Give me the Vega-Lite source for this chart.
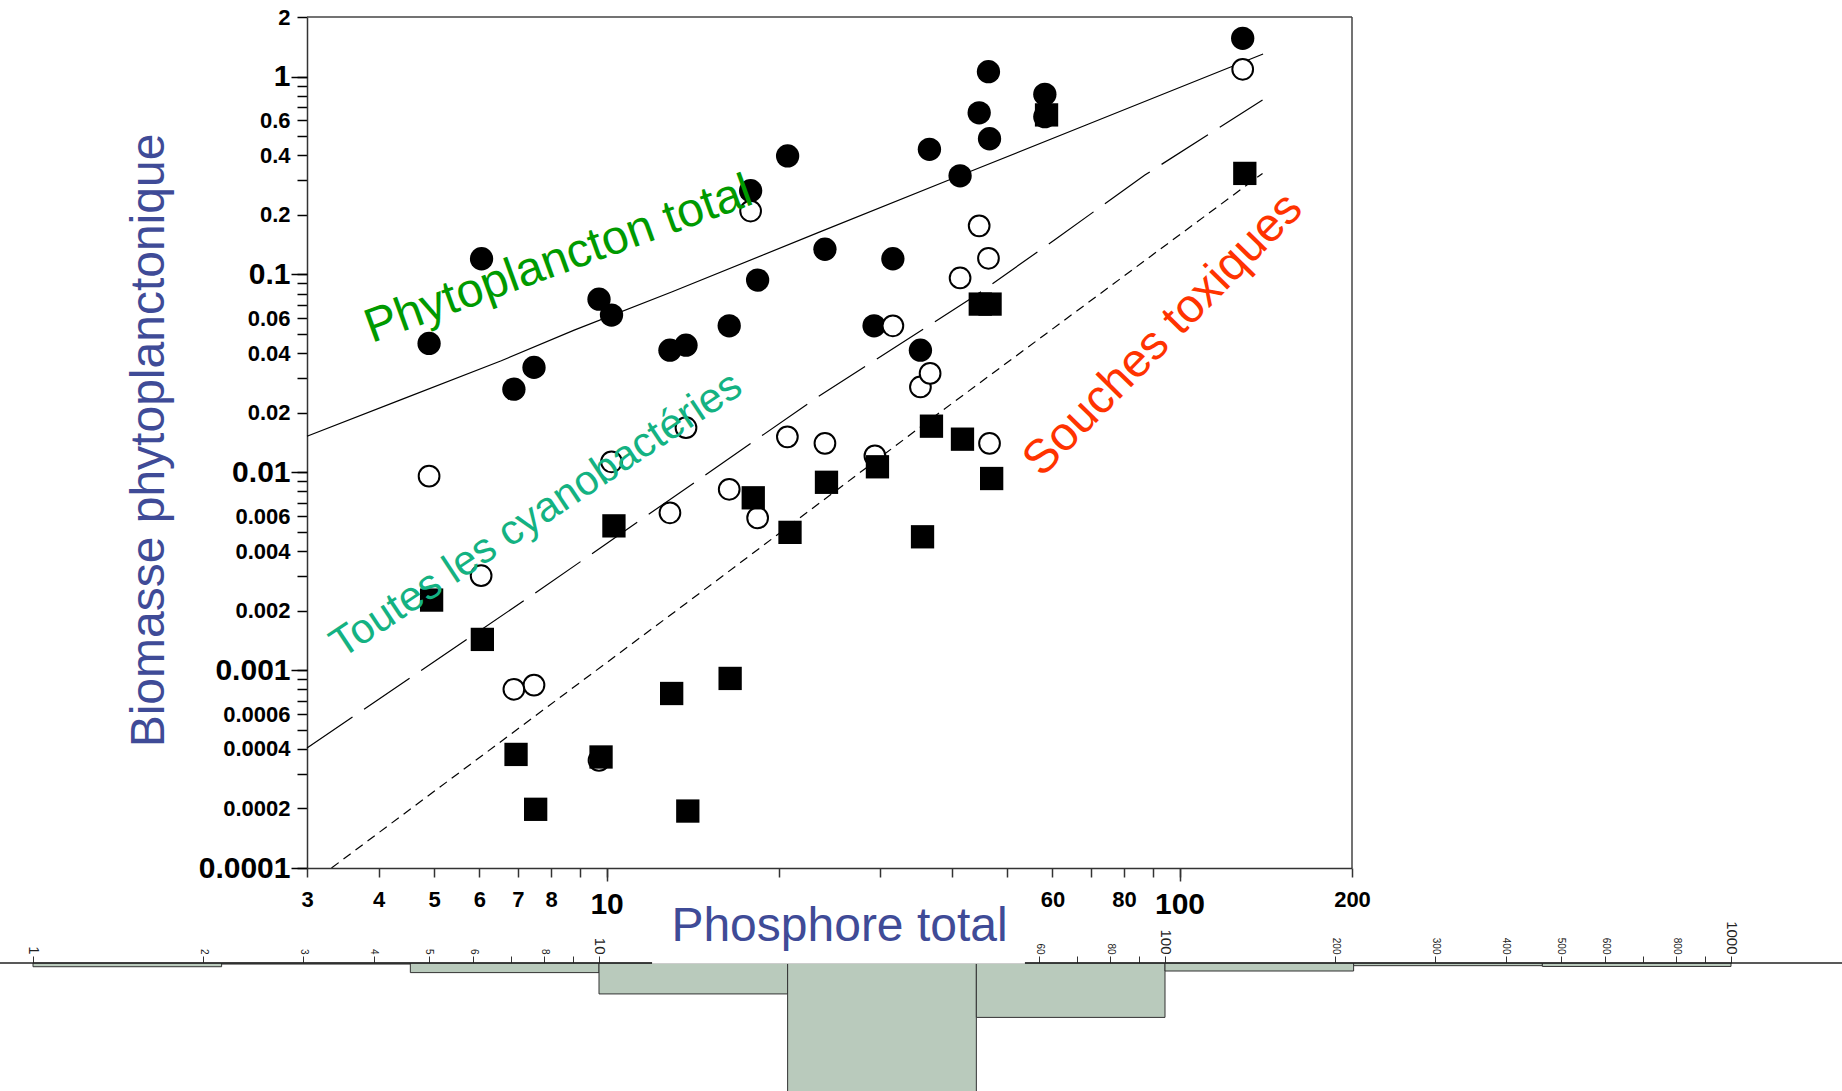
{
  "$schema": "https://vega.github.io/schema/vega-lite/v6.json",
  "width": 1045,
  "height": 851,
  "autosize": {"type": "none"},
  "padding": {"left": 307, "top": 17, "right": 490, "bottom": 223},
  "background": "white",
  "config": {
    "view": {"stroke": null},
    "font": "Liberation Sans"
  },
  "datasets": {
    "points": [
      {"tp": 4.90, "biomasse": 0.0448, "groupe": "total"},
      {"tp": 6.05, "biomasse": 0.120, "groupe": "total"},
      {"tp": 6.89, "biomasse": 0.0263, "groupe": "total"},
      {"tp": 7.47, "biomasse": 0.0339, "groupe": "total"},
      {"tp": 9.70, "biomasse": 0.0750, "groupe": "total"},
      {"tp": 10.2, "biomasse": 0.0623, "groupe": "total"},
      {"tp": 12.9, "biomasse": 0.0414, "groupe": "total"},
      {"tp": 13.76, "biomasse": 0.0439, "groupe": "total"},
      {"tp": 16.37, "biomasse": 0.0550, "groupe": "total"},
      {"tp": 17.84, "biomasse": 0.265, "groupe": "total"},
      {"tp": 18.35, "biomasse": 0.0936, "groupe": "total"},
      {"tp": 20.7, "biomasse": 0.397, "groupe": "total"},
      {"tp": 24.05, "biomasse": 0.134, "groupe": "total"},
      {"tp": 29.3, "biomasse": 0.0550, "groupe": "total"},
      {"tp": 31.6, "biomasse": 0.120, "groupe": "total"},
      {"tp": 35.3, "biomasse": 0.0414, "groupe": "total"},
      {"tp": 36.6, "biomasse": 0.429, "groupe": "total"},
      {"tp": 41.4, "biomasse": 0.315, "groupe": "total"},
      {"tp": 44.7, "biomasse": 0.656, "groupe": "total"},
      {"tp": 46.4, "biomasse": 1.058, "groupe": "total"},
      {"tp": 46.6, "biomasse": 0.485, "groupe": "total"},
      {"tp": 58.2, "biomasse": 0.813, "groupe": "total"},
      {"tp": 58.2, "biomasse": 0.627, "groupe": "total"},
      {"tp": 128.9, "biomasse": 1.56, "groupe": "total"},
      {"tp": 4.90, "biomasse": 0.00956, "groupe": "cyano"},
      {"tp": 6.04, "biomasse": 0.0030, "groupe": "cyano"},
      {"tp": 6.89, "biomasse": 0.00080, "groupe": "cyano"},
      {"tp": 7.47, "biomasse": 0.00084, "groupe": "cyano"},
      {"tp": 9.70, "biomasse": 0.00035, "groupe": "cyano"},
      {"tp": 10.2, "biomasse": 0.0113, "groupe": "cyano"},
      {"tp": 12.9, "biomasse": 0.00624, "groupe": "cyano"},
      {"tp": 13.76, "biomasse": 0.0168, "groupe": "cyano"},
      {"tp": 16.37, "biomasse": 0.0082, "groupe": "cyano"},
      {"tp": 17.84, "biomasse": 0.209, "groupe": "cyano"},
      {"tp": 18.35, "biomasse": 0.00588, "groupe": "cyano"},
      {"tp": 20.68, "biomasse": 0.0151, "groupe": "cyano"},
      {"tp": 24.05, "biomasse": 0.0140, "groupe": "cyano"},
      {"tp": 29.4, "biomasse": 0.0121, "groupe": "cyano"},
      {"tp": 31.6, "biomasse": 0.0550, "groupe": "cyano"},
      {"tp": 35.3, "biomasse": 0.0270, "groupe": "cyano"},
      {"tp": 36.7, "biomasse": 0.0316, "groupe": "cyano"},
      {"tp": 41.4, "biomasse": 0.096, "groupe": "cyano"},
      {"tp": 44.7, "biomasse": 0.176, "groupe": "cyano"},
      {"tp": 46.4, "biomasse": 0.1206, "groupe": "cyano"},
      {"tp": 46.6, "biomasse": 0.0140, "groupe": "cyano"},
      {"tp": 128.9, "biomasse": 1.088, "groupe": "cyano"},
      {"tp": 4.95, "biomasse": 0.00226, "groupe": "toxique"},
      {"tp": 6.07, "biomasse": 0.00143, "groupe": "toxique"},
      {"tp": 6.95, "biomasse": 0.000375, "groupe": "toxique"},
      {"tp": 7.52, "biomasse": 0.000198, "groupe": "toxique"},
      {"tp": 9.78, "biomasse": 0.000364, "groupe": "toxique"},
      {"tp": 10.3, "biomasse": 0.00536, "groupe": "toxique"},
      {"tp": 12.99, "biomasse": 0.000762, "groupe": "toxique"},
      {"tp": 13.86, "biomasse": 0.000194, "groupe": "toxique"},
      {"tp": 16.43, "biomasse": 0.000908, "groupe": "toxique"},
      {"tp": 18.03, "biomasse": 0.00743, "groupe": "toxique"},
      {"tp": 20.9, "biomasse": 0.00497, "groupe": "toxique"},
      {"tp": 24.2, "biomasse": 0.0089, "groupe": "toxique"},
      {"tp": 29.7, "biomasse": 0.01066, "groupe": "toxique"},
      {"tp": 35.6, "biomasse": 0.00472, "groupe": "toxique"},
      {"tp": 36.9, "biomasse": 0.0171, "groupe": "toxique"},
      {"tp": 41.8, "biomasse": 0.0147, "groupe": "toxique"},
      {"tp": 44.9, "biomasse": 0.0708, "groupe": "toxique"},
      {"tp": 46.7, "biomasse": 0.0708, "groupe": "toxique"},
      {"tp": 47.0, "biomasse": 0.0093, "groupe": "toxique"},
      {"tp": 58.6, "biomasse": 0.64, "groupe": "toxique"},
      {"tp": 130, "biomasse": 0.324, "groupe": "toxique"}
    ],
    "lignes": [
      {"tp": 3.0, "biomasse": 0.0152, "ligne": "total"},
      {"tp": 4.38, "biomasse": 0.0233, "ligne": "total"},
      {"tp": 6.55, "biomasse": 0.0366, "ligne": "total"},
      {"tp": 8.78, "biomasse": 0.0523, "ligne": "total"},
      {"tp": 13.02, "biomasse": 0.0817, "ligne": "total"},
      {"tp": 23.57, "biomasse": 0.164, "ligne": "total"},
      {"tp": 41.4, "biomasse": 0.316, "ligne": "total"},
      {"tp": 68.7, "biomasse": 0.569, "ligne": "total"},
      {"tp": 139.9, "biomasse": 1.30, "ligne": "total"},
      {"tp": 3.0, "biomasse": 0.000404, "ligne": "cyano"},
      {"tp": 7.64, "biomasse": 0.00254, "ligne": "cyano"},
      {"tp": 23.4, "biomasse": 0.0241, "ligne": "cyano"},
      {"tp": 44.2, "biomasse": 0.0786, "ligne": "cyano"},
      {"tp": 61.0, "biomasse": 0.152, "ligne": "cyano"},
      {"tp": 87.0, "biomasse": 0.318, "ligne": "cyano"},
      {"tp": 139.6, "biomasse": 0.761, "ligne": "cyano"},
      {"tp": 3.31, "biomasse": 0.0001, "ligne": "toxique"},
      {"tp": 15.57, "biomasse": 0.00284, "ligne": "toxique"},
      {"tp": 38.1, "biomasse": 0.0200, "ligne": "toxique"},
      {"tp": 139.6, "biomasse": 0.324, "ligne": "toxique"}
    ],
    "histo": [
      {"debut": 1, "fin": 2.154, "effectif": 0.7},
      {"debut": 2.154, "fin": 4.642, "effectif": 0.2},
      {"debut": 4.642, "fin": 10, "effectif": 1.8},
      {"debut": 10, "fin": 21.54, "effectif": 5.8},
      {"debut": 21.54, "fin": 46.42, "effectif": 30},
      {"debut": 46.42, "fin": 100, "effectif": 10.2},
      {"debut": 100, "fin": 215.4, "effectif": 1.5},
      {"debut": 215.4, "fin": 464.2, "effectif": 0.5},
      {"debut": 464.2, "fin": 1000, "effectif": 0.65}
    ]
  },
  "layer": [
    {
      "data": {"name": "lignes"},
      "transform": [{"filter": "datum.ligne == 'total'"}],
      "mark": {"type": "line", "color": "black", "strokeWidth": 1.2},
      "encoding": {
        "x": {
          "field": "tp", "type": "quantitative",
          "scale": {"type": "log", "domain": [3, 200], "nice": false},
          "axis": {
            "orient": "bottom", "zindex": 1, "grid": false,
            "values": [3,4,5,6,7,8,9,10,20,30,40,50,60,70,80,90,100,200],
            "format": "d",
            "labelExpr": "(datum.value == 9 || (datum.value >= 20 && datum.value <= 50) || datum.value == 70 || datum.value == 90) ? '' : datum.label",
            "labelFontWeight": "bold", "labelColor": "black",
            "labelFontSize": {"condition": {"test": "datum.value == 10 || datum.value == 100", "value": 30}, "value": 22},
            "tickSize": 9, "tickColor": "#333", "tickWidth": 1.5, "domainColor": "#333", "domainWidth": 1.5,
            "labelPadding": 12, "labelFlush": false, "labelOverlap": false,
            "title": "Phosphore total", "titleFontSize": 48, "titleFontWeight": "normal", "titleColor": "#3f4b97",
            "titleX": 532, "titleY": 72, "titleBaseline": "alphabetic", "titleAlign": "center"
          }
        },
        "y": {
          "field": "biomasse", "type": "quantitative",
          "scale": {"type": "log", "domain": [0.0001, 2], "nice": false},
          "axis": {
            "orient": "left", "grid": false,
            "values": [0.0001,0.0002,0.0003,0.0004,0.0005,0.0006,0.0007,0.0008,0.0009,0.001,0.002,0.003,0.004,0.005,0.006,0.007,0.008,0.009,0.01,0.02,0.03,0.04,0.05,0.06,0.07,0.08,0.09,0.1,0.2,0.3,0.4,0.5,0.6,0.7,0.8,0.9,1,2],
            "format": ".4~f",
            "labelExpr": "(round(datum.value / pow(10, floor(log(datum.value) / LN10 + 0.000001))) == 1 || round(datum.value / pow(10, floor(log(datum.value) / LN10 + 0.000001))) == 2 || round(datum.value / pow(10, floor(log(datum.value) / LN10 + 0.000001))) == 4 || round(datum.value / pow(10, floor(log(datum.value) / LN10 + 0.000001))) == 6) ? datum.label : ''",
            "labelFontWeight": "bold", "labelColor": "black",
            "labelFontSize": {"condition": {"test": "abs(log(datum.value) / LN10 - round(log(datum.value) / LN10)) < 0.0001", "value": 30}, "value": 22},
            "tickSize": 10, "tickColor": "black", "tickWidth": 1.5, "domainColor": "#333", "domainWidth": 1.5,
            "labelPadding": 7, "labelFlush": false, "labelOverlap": false,
            "title": "Biomasse phytoplanctonique", "titleFontSize": 48, "titleFontWeight": "normal", "titleColor": "#3f4b97",
            "titleAngle": -90, "titleX": -144, "titleY": 423, "titleBaseline": "alphabetic", "titleAlign": "center"
          }
        }
      }
    },
    {
      "data": {"name": "lignes"},
      "transform": [{"filter": "datum.ligne == 'cyano'"}],
      "mark": {"type": "line", "color": "black", "strokeWidth": 1.2, "strokeDash": [55, 14]},
      "encoding": {
        "x": {
          "field": "tp", "type": "quantitative", "scale": {"type": "log", "domain": [3, 200], "nice": false},
          "axis": {"orient": "bottom", "values": [10, 100], "tickSize": 13, "tickColor": "#333", "tickWidth": 1.5, "labels": false, "domain": false, "grid": false, "title": null}
        },
        "y": {
          "field": "biomasse", "type": "quantitative", "scale": {"type": "log", "domain": [0.0001, 2], "nice": false},
          "axis": {"orient": "left", "values": [0.0001, 0.001, 0.01, 0.1, 1], "tickSize": 16, "tickColor": "black", "tickWidth": 1.5, "labels": false, "domain": false, "grid": false, "title": null}
        }
      }
    },
    {
      "data": {"name": "lignes"},
      "transform": [{"filter": "datum.ligne == 'toxique'"}],
      "mark": {"type": "line", "color": "black", "strokeWidth": 1.2, "strokeDash": [9, 6]},
      "encoding": {
        "x": {"field": "tp", "type": "quantitative", "scale": {"type": "log", "domain": [3, 200], "nice": false}, "axis": null},
        "y": {"field": "biomasse", "type": "quantitative", "scale": {"type": "log", "domain": [0.0001, 2], "nice": false}, "axis": null}
      }
    },
    {
      "data": {"values": [{}]},
      "mark": {"type": "rule", "color": "#444", "strokeWidth": 1.5},
      "encoding": {
        "x": {"datum": 3, "type": "quantitative", "scale": {"type": "log", "domain": [3, 200], "nice": false}, "axis": null},
        "x2": {"datum": 200},
        "y": {"datum": 2, "type": "quantitative", "scale": {"type": "log", "domain": [0.0001, 2], "nice": false}, "axis": null}
      }
    },
    {
      "data": {"values": [{}]},
      "mark": {"type": "rule", "color": "#444", "strokeWidth": 1.5},
      "encoding": {
        "x": {"datum": 200, "type": "quantitative", "scale": {"type": "log", "domain": [3, 200], "nice": false}, "axis": null},
        "y": {"datum": 0.0001, "type": "quantitative", "scale": {"type": "log", "domain": [0.0001, 2], "nice": false}, "axis": null},
        "y2": {"datum": 2}
      }
    },
    {
      "data": {"name": "points"},
      "transform": [{"filter": "datum.groupe == 'total'"}],
      "mark": {"type": "point", "shape": "circle", "filled": true, "color": "black", "opacity": 1, "size": 543},
      "encoding": {
        "x": {"field": "tp", "type": "quantitative", "scale": {"type": "log", "domain": [3, 200], "nice": false}, "axis": null},
        "y": {"field": "biomasse", "type": "quantitative", "scale": {"type": "log", "domain": [0.0001, 2], "nice": false}, "axis": null}
      }
    },
    {
      "data": {"name": "points"},
      "transform": [{"filter": "datum.groupe == 'cyano'"}],
      "mark": {"type": "point", "shape": "circle", "filled": true, "fill": "white", "stroke": "black", "strokeWidth": 2, "opacity": 1, "fillOpacity": 1, "size": 430},
      "encoding": {
        "x": {"field": "tp", "type": "quantitative", "scale": {"type": "log", "domain": [3, 200], "nice": false}, "axis": null},
        "y": {"field": "biomasse", "type": "quantitative", "scale": {"type": "log", "domain": [0.0001, 2], "nice": false}, "axis": null}
      }
    },
    {
      "data": {"name": "points"},
      "transform": [{"filter": "datum.groupe == 'toxique'"}],
      "mark": {"type": "point", "shape": "square", "filled": true, "color": "black", "opacity": 1, "size": 543},
      "encoding": {
        "x": {"field": "tp", "type": "quantitative", "scale": {"type": "log", "domain": [3, 200], "nice": false}, "axis": null},
        "y": {"field": "biomasse", "type": "quantitative", "scale": {"type": "log", "domain": [0.0001, 2], "nice": false}, "axis": null}
      }
    },
    {
      "data": {"values": [{}]},
      "mark": {"type": "text", "text": "Phytoplancton total", "font": "Liberation Sans", "fontSize": 48, "color": "#009a00", "angle": -20, "align": "left", "baseline": "alphabetic"},
      "encoding": {
        "x": {"datum": 3.89, "type": "quantitative", "scale": {"type": "log", "domain": [3, 200], "nice": false}, "axis": null},
        "y": {"datum": 0.045, "type": "quantitative", "scale": {"type": "log", "domain": [0.0001, 2], "nice": false}, "axis": null}
      }
    },
    {
      "data": {"values": [{}]},
      "mark": {"type": "text", "text": "Toutes les cyanobactéries", "font": "Liberation Sans", "fontSize": 42, "color": "#14b282", "angle": -33.5, "align": "left", "baseline": "alphabetic"},
      "encoding": {
        "x": {"datum": 3.45, "type": "quantitative", "scale": {"type": "log", "domain": [3, 200], "nice": false}, "axis": null},
        "y": {"datum": 0.00114, "type": "quantitative", "scale": {"type": "log", "domain": [0.0001, 2], "nice": false}, "axis": null}
      }
    },
    {
      "data": {"values": [{}]},
      "mark": {"type": "text", "text": "Souches toxiques", "font": "Liberation Sans", "fontSize": 47.5, "color": "#ff3300", "angle": -45.5, "align": "left", "baseline": "alphabetic"},
      "encoding": {
        "x": {"datum": 57.5, "type": "quantitative", "scale": {"type": "log", "domain": [3, 200], "nice": false}, "axis": null},
        "y": {"datum": 0.00934, "type": "quantitative", "scale": {"type": "log", "domain": [0.0001, 2], "nice": false}, "axis": null}
      }
    },
    {
      "data": {"name": "histo"},
      "mark": {"type": "rect", "fill": "#b9cabc", "stroke": "#333", "strokeWidth": 1},
      "encoding": {
        "x": {
          "field": "debut", "type": "quantitative",
          "scale": {"type": "log", "domain": [1, 1000], "range": [-274, 1424], "nice": false},
          "axis": {
            "orient": "bottom", "offset": 95, "grid": false, "domain": false,
            "values": [1,2,3,4,5,6,7,8,9,10,60,70,80,90,100,200,300,400,500,600,700,800,900,1000],
            "format": "d",
            "labelExpr": "(datum.value == 7 || datum.value == 9 || datum.value == 70 || datum.value == 90 || datum.value == 700 || datum.value == 900) ? '' : datum.label",
            "labelAngle": 90, "labelAlign": "right", "labelBaseline": "middle",
            "labelFontSize": {"condition": {"test": "datum.value == 1 || datum.value == 10 || datum.value == 100 || datum.value == 1000", "value": 15}, "value": 10},
            "labelColor": "#222", "labelPadding": -2, "tickSize": -7, "tickColor": "#333",
            "labelOverlap": false, "labelFlush": false, "title": null
          }
        },
        "x2": {"field": "fin"},
        "y": {"field": "effectif", "type": "quantitative", "scale": {"type": "linear", "domain": [0, 24], "range": [946, 1074], "nice": false, "zero": false}, "axis": null},
        "y2": {"datum": 0}
      }
    },
    {
      "data": {"values": [{}]},
      "mark": {"type": "rule", "color": "#222", "strokeWidth": 1.5},
      "encoding": {
        "x": {"datum": 0.87, "type": "quantitative", "scale": {"type": "log", "domain": [1, 1000], "range": [-274, 1424], "nice": false}, "axis": null},
        "x2": {"datum": 1580},
        "y": {"datum": 0, "type": "quantitative", "scale": {"type": "linear", "domain": [0, 24], "range": [946, 1074], "nice": false, "zero": false}, "axis": null}
      }
    },
    {
      "data": {"values": [{}]},
      "mark": {"type": "rect", "color": "white", "opacity": 1},
      "encoding": {
        "x": {"datum": 12.41, "type": "quantitative", "scale": {"type": "log", "domain": [1, 1000], "range": [-274, 1424], "nice": false}, "axis": null},
        "x2": {"datum": 56.56},
        "y": {"datum": -15.2, "type": "quantitative", "scale": {"type": "linear", "domain": [0, 24], "range": [946, 1074], "nice": false, "zero": false}, "axis": null},
        "y2": {"datum": 0.12}
      }
    }
  ],
  "resolve": {"scale": {"x": "independent", "y": "independent"}}
}
